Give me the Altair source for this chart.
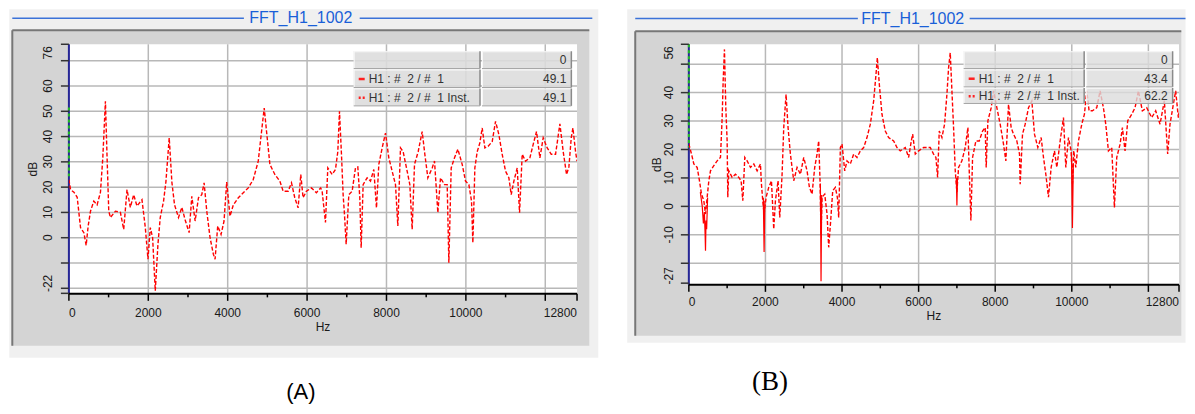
import altair as alt
import pandas as pd

FONT = "Liberation Sans"
TITLE = "FFT_H1_1002"
PANEL_LABELS = ["(A)", "(B)"]
X_TITLE = "Hz"
Y_TITLE = "dB"

X_TICKS = [0, 2000, 4000, 6000, 8000, 10000, 12000, 12800]
X_GRID = [0, 2000, 4000, 6000, 8000, 10000, 12000]
X_MINOR = [1000, 3000, 5000, 7000, 9000, 11000]
X_LABEL_POS = [0, 2000, 4000, 6000, 8000, 10000, 12800]
X_LABELS = ["0", "2000", "4000", "6000", "8000", "10000", "12800"]

LEGEND_NAMES = ["", "H1 : #\u00a0 2 / #\u00a0 1", "H1 : #\u00a0 2 / #\u00a0 1 Inst."]

# ---------------- Panel A ----------------
A_HZ = [0, 42, 126, 209, 293, 377, 435, 485, 544, 628, 711, 795, 854, 920, 962,
        1004, 1046, 1172, 1297, 1381, 1464, 1548, 1632, 1715, 1841, 1925, 1992,
        2050, 2109, 2176, 2243, 2301, 2385, 2443, 2527, 2594, 2661, 2761, 2845,
        2929, 3029, 3096, 3180, 3264, 3347, 3406, 3473, 3556, 3640, 3682, 3749,
        3833, 3908, 3975, 4058, 4142, 4268, 4393, 4519, 4644, 4770, 4853, 4920,
        4979, 5063, 5188, 5314, 5397, 5523, 5607, 5690, 5774, 5841, 5899, 5983,
        6109, 6234, 6343, 6379, 6463, 6522, 6631, 6715, 6774, 6816, 6866, 6908,
        6942, 6984, 7051, 7135, 7219, 7278, 7328, 7362, 7412, 7513, 7597, 7681,
        7748, 7807, 7891, 7975, 8059, 8143, 8227, 8286, 8353, 8420, 8504, 8588,
        8647, 8706, 8798, 8899, 8966, 9042, 9151, 9210, 9294, 9361, 9462, 9529,
        9571, 9630, 9714, 9798, 9907, 9991, 10075, 10142, 10176, 10226, 10285,
        10352, 10411, 10478, 10562, 10663, 10747, 10831, 10915, 10999, 11083,
        11142, 11209, 11293, 11352, 11419, 11503, 11612, 11713, 11780, 11864,
        11948, 12049, 12150, 12259, 12318, 12368, 12452, 12536, 12595, 12654,
        12696, 12763, 12800]
A_DB = [23, 19, 18, 16, 4, 2, -3, 4.6, 10.5, 14.5, 13, 18, 31.6, 54, 31.6,
        10.5, 8, 10.5, 10, 3.3, 19, 12, 17, 12.5, 15, 4, -8.5,
        4, 0, -21, -2.6, 8, 14.5, 22, 39.5, 22, 13, 8, 12,
        7, 2, 16.4, 6.6, 15.8, 17, 21.7, 10.5, 0, -6.6, -8.5, 4.6,
        1.3, 6.6, 22, 8.5, 13, 15.8, 17.8, 19.7, 23, 30.3, 42, 51.3,
        42, 29, 25, 22.4, 18.4, 18.4, 21.7, 15.8, 11.8, 25, 15.8, 18.4,
        19.7, 17.8, 19.7, 18.4, 6, 27.6, 25, 27, 34, 50, 33, 17,
        9.2, -2.6, 17, 18.4, 27.6, 28, 15.8, -4, 21, 23.7, 22.4, 27,
        11.8, 29, 35.5, 41.4, 31.6, 26.3, 21, 4.6, 35.5, 34, 27.6, 21,
        3.3, 29, 34, 42, 33, 23.7, 27.6, 30.3, 9.9, 23.7, 21, 21,
        -9.9, 27.6, 31.6, 35, 29, 22.4, 21, 14.5, -2, 27.6, 34,
        37.5, 43.4, 35.5, 36.2, 38, 46, 40.8, 33, 26.3, 23.7,
        17, 22.4, 27.6, 9.9, 33, 30.3, 31.6, 38, 42, 31.6,
        39.5, 35.5, 33, 33, 39.5, 45, 34, 25, 28, 39.5,
        43.4, 34, 30.3]
A_Y_TICKS = [-22, -20, -10, 0, 10, 20, 30, 40, 50, 60, 70, 76.5]
A_Y_GRID = [-20, -10, 0, 10, 20, 30, 40, 50, 60, 70]
A_Y_LABEL_POS = [0, 10, 20, 30, 40, 50, 60]
A_Y_LABELS = ["0", "10", "20", "30", "40", "50", "60"]
A_Y_DOMAIN = [-22.2, 76.5]
A_GREEN = [51.5, 23.7]
A_END_LABELS = ["76", "-22"]
A_LEGEND_VALUES = ["0", "49.1", "49.1"]

# ---------------- Panel B ----------------
B_HZ = [0, 70, 130, 217, 278, 330, 391, 435, 478, 522, 565, 652, 739, 826, 870,
        896, 930, 965, 1000, 1017, 1043, 1130, 1217, 1304, 1365, 1409, 1461,
        1522, 1609, 1696, 1783, 1870, 1896, 1930, 1965, 2017, 2087, 2157, 2191,
        2217, 2261, 2330, 2374, 2435, 2478, 2539, 2591, 2652, 2739, 2826, 2913,
        3000, 3087, 3148, 3217, 3287, 3348, 3391, 3426, 3452, 3478, 3548, 3609,
        3652, 3704, 3757, 3826, 3878, 3913, 3957, 4000, 4070, 4130, 4217, 4304,
        4391, 4478, 4565, 4652, 4739, 4826, 4887, 4922, 4974, 5043, 5130, 5217,
        5348, 5435, 5522, 5652, 5739, 5809, 5844, 5913, 6000, 6130, 6304, 6391,
        6452, 6496, 6539, 6609, 6678, 6739, 6783, 6826, 6870, 6913, 6957, 7000,
        7043, 7130, 7217, 7287, 7322, 7365, 7409, 7496, 7583, 7670, 7739, 7765,
        7809, 7896, 7957, 8043, 8130, 8217, 8278, 8348, 8417, 8478, 8565, 8635,
        8652, 8713, 8783, 8870, 8957, 9026, 9113, 9200, 9261, 9322, 9391, 9461,
        9548, 9609, 9696, 9783, 9844, 9913, 9983, 10017, 10052, 10104, 10174,
        10261, 10330, 10391, 10452, 10539, 10652, 10739, 10826, 10887, 10957,
        11043, 11113, 11174, 11261, 11322, 11391, 11461, 11565, 11652, 11739,
        11843, 11957, 12087, 12191, 12304, 12417, 12504, 12565, 12652, 12713,
        12783, 12800]
B_DB = [22, 18.4, 14.9, 13.7, 9.0, 4.3, 2.0, -2.7, 3.2, 9.0, 12.5, 14.3, 16.0, 17.2, 31.2,
        44.1, 55.2, 34.7, 23.0, 3.2, 12.5, 10.2, 11.3, 10.2, 9.0, 2.0, 17.2,
        16.0, 13.7, 14.9, 12.5, 14.9, 7.8, 2.0, -2.7, 3.2, 6.7, 9.0, -0.4,
        -8.0, 2.0, 9.0, -3.9, 11.3, 27.7, 39.4, 27.7, 18.4, 9.0, 13.7, 11.3,
        17.2, 12.5, 6.7, 4.3, 13.7, 18.4, 23.0, 9.0, -10, 3.2, 4.3, -2.7,
        -14.4, -5.0, 5.5, 6.7, 3.2, -3.9, 20.7, 21.9, 12.5, 16.0, 14.9, 18.4,
        17.2, 19.5, 20.7, 24.2, 28.9, 37.1, 46.4, 52.3, 42.9, 32.4, 26.5, 24.2,
        23.0, 20.7, 19.5, 20.7, 17.2, 23.0, 25.4, 18.4, 19.5, 20.7, 20.7, 18.4,
        17.2, 10.2, 26.5, 24.2, 28.9, 39.4, 48.8, 54.0, 40.6, 27.7, 12.5, 5.0,
        13.7, 16.0, 20.7, 27.7, 12.5, -5.0, 17.2, 23.0, 23.0, 26.5, 27.7, 13.7,
        30.1, 34.7, 40.6, 34.7, 28.9, 21.9, 16.0, 35.9, 27.7, 25.4, 23.0, 18.4,
        7.8, 25.4, 28.9, 34.7, 37.1, 25.4, 20.7, 24.2, 17.2, 11.3, 3.2, 13.7,
        19.5, 13.7, 23.0, 31.2, 13.7, 24.2, 19.5, 8.0, 19.5, 13.7, 23.0,
        28.9, 32.4, 40.6, 33.6, 33.6, 34.7, 40.6, 34.7, 28.9, 19.5,
        20.7, -0.4, 17.2, 21.9, 27.7, 19.5, 30.1, 32.4, 34.7, 40.6,
        33.6, 34.7, 31.2, 33.6, 28.9, 37.1, 18.4, 28.9, 35.9, 40.6,
        31.2, 33]
B_SOLID_HZ = [300, 350, 380, 405, 425, 435, 448, 465, 490,
              1945, 1965, 1985,
              3435, 3452, 3470,
              6985, 7000, 7015,
              9990, 10017, 10040]
B_SOLID_DB = [5, 0, -6, -2, -10, -15.6, -5, -8, 3,
              3, -16, 2,
              8, -26.3, 4,
              10, 0.3, 10,
              19, -7.6, 15]
B_SOLID_SEG = [1, 1, 1, 1, 1, 1, 1, 1, 1,
               2, 2, 2,
               3, 3, 3,
               4, 4, 4,
               5, 5, 5]
B_Y_TICKS = [-27, -20, -10, 0, 10, 20, 30, 40, 50, 57]
B_Y_GRID = [-20, -10, 0, 10, 20, 30, 40, 50]
B_Y_LABEL_POS = [-10, 0, 10, 20, 30, 40]
B_Y_LABELS = ["-10", "0", "10", "20", "30", "40"]
B_Y_DOMAIN = [-27.6, 57.0]
B_GREEN = [57.0, 20.7]
B_END_LABELS = ["56", "-27"]
B_LEGEND_VALUES = ["0", "43.4", "62.2"]


# ---------------- helpers ----------------
def rect_layer(rows):
    df = pd.DataFrame(rows)
    return alt.Chart(df).mark_rect().encode(
        x=alt.X("x:Q", scale=None, axis=None),
        x2="x2:Q",
        y=alt.Y("y:Q", scale=None, axis=None),
        y2="y2:Q",
        fill=alt.Fill("fill:N", scale=None),
        fillOpacity=alt.FillOpacity("op:Q", scale=None),
    )


def rule_layer(rows, **mk):
    df = pd.DataFrame(rows)
    return alt.Chart(df).mark_rule(**mk).encode(
        x=alt.X("x:Q", scale=None, axis=None),
        x2="x2:Q",
        y=alt.Y("y:Q", scale=None, axis=None),
        y2="y2:Q",
        color=alt.Color("c:N", scale=None),
        strokeWidth=alt.StrokeWidth("w:Q", scale=None),
    )


def text_layer(rows, **mk):
    df = pd.DataFrame(rows)
    return alt.Chart(df).mark_text(**mk).encode(
        x=alt.X("x:Q", scale=None, axis=None),
        y=alt.Y("y:Q", scale=None, axis=None),
        text="t:N",
    )


def panel(g, hz, db, ydom, yticks, ygrid, ylab_pos, ylabs, green, end_labels,
          legend_vals, plabel, plabel_font, plabel_size,
          solid_hz=None, solid_db=None, solid_seg=None):
    W, H = g["W"], g["H"]
    xs = alt.Scale(domain=[0, 12800], nice=False, zero=False)
    ys = alt.Scale(domain=ydom, nice=False, zero=False)
    ox0, ox1, oy0, oy1 = g["outer"]
    fx0, fx1, fy0, fy1 = g["frame"]
    layers = []

    # backgrounds
    layers.append(rect_layer([
        dict(x=ox0, x2=ox1, y=oy0, y2=oy1, fill="#f0f0f0", op=1),
        dict(x=fx0, x2=fx1, y=fy0, y2=fy1, fill="#d4d4d4", op=1),
        dict(x=0, x2=W, y=0, y2=H, fill="#ffffff", op=1),
    ]))
    ty = g["title_y"]
    layers.append(rule_layer([
        dict(x=fx0, x2=fx1, y=fy0, y2=fy0, c="#777777", w=2),
        dict(x=fx0, x2=fx0, y=fy0, y2=fy1, c="#777777", w=2),
        dict(x=g["tl"][0], x2=g["tl"][1], y=ty, y2=ty, c="#3b72d8", w=1.5),
        dict(x=g["tr"][0], x2=g["tr"][1], y=ty, y2=ty, c="#3b72d8", w=1.5),
    ]))
    layers.append(text_layer([dict(x=g["tc"], y=ty, t=TITLE)],
                             align="center", baseline="middle", font=FONT,
                             fontSize=16, color="#1a5fd8"))

    # grid lines
    layers.append(alt.Chart(pd.DataFrame({"hz": X_GRID})).mark_rule(
        color="#b8b8b8", strokeWidth=1.5).encode(
        x=alt.X("hz:Q", scale=xs, axis=None), y=alt.value(0), y2=alt.value(H)))
    layers.append(alt.Chart(pd.DataFrame({"db": ygrid})).mark_rule(
        color="#b8b8b8", strokeWidth=1.5).encode(
        y=alt.Y("db:Q", scale=ys, axis=None), x=alt.value(0), x2=alt.value(W)))

    # y axis line (blue) with green dashed trace
    layers.append(rule_layer([dict(x=0, x2=0, y=0, y2=H, c="#262696", w=2)]))
    layers.append(alt.Chart(pd.DataFrame({"hz": [0], "db": [green[0]], "db2": [green[1]]}))
                  .mark_rule(color="#22c022", strokeWidth=2, strokeDash=[3, 3]).encode(
        x=alt.X("hz:Q", scale=xs, axis=None),
        y=alt.Y("db:Q", scale=ys, axis=None), y2="db2:Q"))

    # solid trace
    if solid_hz is not None:
        layers.append(alt.Chart(pd.DataFrame({"hz": solid_hz, "db": solid_db, "seg": solid_seg}))
                      .mark_line(color="#ff0000", strokeWidth=1.2, clip=True).encode(
            x=alt.X("hz:Q", scale=xs, axis=None),
            y=alt.Y("db:Q", scale=ys, axis=None),
            detail="seg:N"))

    # main dashed trace
    layers.append(alt.Chart(pd.DataFrame({"hz": hz, "db": db}))
                  .mark_line(color="#ff0000", strokeWidth=1.4, strokeDash=[4, 2], clip=True)
                  .encode(x=alt.X("hz:Q", scale=xs, axis=None),
                          y=alt.Y("db:Q", scale=ys, axis=None)))

    # legend table
    L, D, R = g["leg_x"]
    ly = g["leg_y"]
    cells, edges, names, vals = [], [], [], []
    for r in range(3):
        y0, y1 = ly[r], ly[r + 1] - 1
        for cx0, cx1 in [(L, D - 1), (D + 1, R)]:
            cells.append(dict(x=cx0, x2=cx1, y=y0, y2=y1, fill="#dcdcdc", op=g["leg_op"]))
            edges.append(dict(x=cx0, x2=cx1, y=y0 + 0.5, y2=y0 + 0.5, c="#f8f8f8", w=1))
            edges.append(dict(x=cx0 + 0.5, x2=cx0 + 0.5, y=y0, y2=y1, c="#f8f8f8", w=1))
            edges.append(dict(x=cx1, x2=cx1, y=y0, y2=y1, c="#8a8a8a", w=1.5))
            edges.append(dict(x=cx0, x2=cx1, y=y1, y2=y1, c="#a5a5a5", w=1))
        cy = (ly[r] + ly[r + 1]) / 2
        if LEGEND_NAMES[r]:
            names.append(dict(x=L + 15, y=cy, t=LEGEND_NAMES[r]))
        vals.append(dict(x=R - 5, y=cy, t=legend_vals[r]))
    layers.append(rect_layer(cells))
    layers.append(rule_layer(edges))
    layers.append(text_layer(names, align="left", baseline="middle", font=FONT,
                             fontSize=12, color="#333333"))
    layers.append(text_layer(vals, align="right", baseline="middle", font=FONT,
                             fontSize=12, color="#333333"))
    c1 = (ly[1] + ly[2]) / 2
    c2 = (ly[2] + ly[3]) / 2
    layers.append(rule_layer([dict(x=L + 5, x2=L + 11, y=c1, y2=c1, c="#ff2020", w=2.5)]))
    layers.append(rule_layer([dict(x=L + 5, x2=L + 12, y=c2, y2=c2, c="#ff2020", w=2.5)],
                             strokeDash=[2, 2]))

    # ---- axes drawn by hand ----
    # x axis line
    layers.append(rule_layer([dict(x=0, x2=W, y=H, y2=H, c="#000000", w=2)]))
    # x major / minor ticks
    layers.append(alt.Chart(pd.DataFrame({"hz": X_TICKS})).mark_rule(
        color="#000000", strokeWidth=1.5).encode(
        x=alt.X("hz:Q", scale=xs, axis=None), y=alt.value(H), y2=alt.value(H + 7)))
    layers.append(alt.Chart(pd.DataFrame({"hz": X_MINOR})).mark_rule(
        color="#000000", strokeWidth=1.5).encode(
        x=alt.X("hz:Q", scale=xs, axis=None), y=alt.value(H), y2=alt.value(H + 3.5)))
    # x tick labels
    xl = pd.DataFrame({"hz": X_LABEL_POS, "t": X_LABELS})
    ly_lab = H + g["xlab_dy"]
    for sub, al in [(xl.iloc[:1], "left"), (xl.iloc[1:-1], "center"), (xl.iloc[-1:], "right")]:
        layers.append(alt.Chart(sub).mark_text(
            align=al, baseline="middle", font=FONT, fontSize=12, color="#1a1a1a").encode(
            x=alt.X("hz:Q", scale=xs, axis=None), y=alt.value(ly_lab), text="t:N"))
    # y ticks
    layers.append(alt.Chart(pd.DataFrame({"db": yticks})).mark_rule(
        color="#333333", strokeWidth=1.5).encode(
        y=alt.Y("db:Q", scale=ys, axis=None), x=alt.value(-8), x2=alt.value(0)))
    # y tick labels (rotated)
    layers.append(alt.Chart(pd.DataFrame({"db": ylab_pos, "t": ylabs})).mark_text(
        align="center", baseline="middle", angle=270, font=FONT, fontSize=12,
        color="#1a1a1a").encode(
        y=alt.Y("db:Q", scale=ys, axis=None), x=alt.value(g["end_x"]), text="t:N"))
    # end labels on the y axis
    layers.append(text_layer([
        dict(x=g["end_x"], y=g["end_y"][0], t=end_labels[0]),
        dict(x=g["end_x"], y=g["end_y"][1], t=end_labels[1]),
    ], align="center", baseline="middle", angle=270, font=FONT, fontSize=12,
        color="#1a1a1a"))
    # axis titles
    layers.append(text_layer([dict(x=W / 2, y=H + g["hz_dy"], t=X_TITLE)],
                             align="center", baseline="middle", font=FONT,
                             fontSize=12, color="#1a1a1a"))
    layers.append(text_layer([dict(x=g["db_x"], y=H / 2, t=Y_TITLE)],
                             align="center", baseline="middle", angle=270, font=FONT,
                             fontSize=12, color="#1a1a1a"))

    # panel label
    layers.append(text_layer([dict(x=g["plabel"][0], y=g["plabel"][1], t=plabel)],
                             align="center", baseline="middle", font=plabel_font,
                             fontSize=plabel_size, color="#000000"))

    return alt.layer(*layers).properties(width=W, height=H)


GA = dict(W=509, H=250, outer=(-59.7, 530.3, -35, 314), frame=(-56.7, 521.3, -14, 302),
          title_y=-26, tl=(-56.7, 175.3), tc=232.3, tr=(291.3, 524.3),
          leg_x=(285.3, 412.8, 503.3), leg_y=(7, 25.3, 44.3, 62.7), leg_op=0.88,
          end_x=-21, end_y=(8.5, 239.5), plabel=(232.3, 348),
          xlab_dy=19, hz_dy=33, db_x=-36)
GB = dict(W=491, H=241, outer=(-61.7, 497.5, -35, 299), frame=(-53.7, 493.3, -13, 292),
          title_y=-25.7, tl=(-53.7, 169.3), tc=224.3, tr=(281.3, 497.5),
          leg_x=(275.3, 397, 484.6), leg_y=(7, 25.3, 43.7, 60.3), leg_op=0.8,
          end_x=-19.5, end_y=(8.7, 232), plabel=(81.3, 338),
          xlab_dy=17, hz_dy=30.7, db_x=-32)

panel_a = panel(GA, A_HZ, A_DB, A_Y_DOMAIN, A_Y_TICKS, A_Y_GRID, A_Y_LABEL_POS, A_Y_LABELS,
                A_GREEN, A_END_LABELS, A_LEGEND_VALUES, PANEL_LABELS[0], FONT, 22)
panel_b = panel(GB, B_HZ, B_DB, B_Y_DOMAIN, B_Y_TICKS, B_Y_GRID, B_Y_LABEL_POS, B_Y_LABELS,
                B_GREEN, B_END_LABELS, B_LEGEND_VALUES, PANEL_LABELS[1], "Liberation Serif", 27,
                B_SOLID_HZ, B_SOLID_DB, B_SOLID_SEG)

chart = alt.hconcat(panel_a, panel_b, spacing=112, bounds="flush").properties(
    padding=0
).configure_view(strokeWidth=0).configure(background="#ffffff")

chart.save("out.html", embed_options={"renderer": "svg", "actions": False})
